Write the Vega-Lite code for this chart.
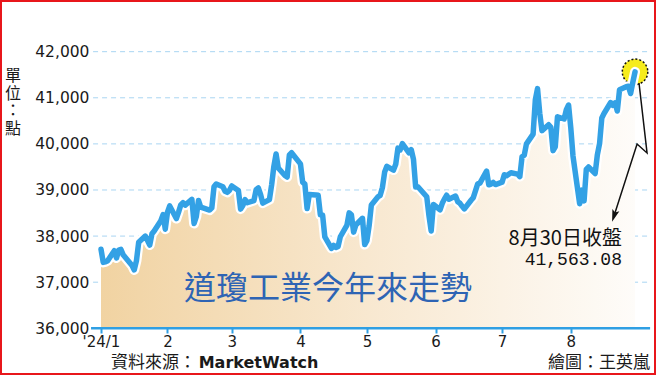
{
  "$schema": "https://vega.github.io/schema/vega-lite/v6.json",
  "width": 656,
  "height": 375,
  "autosize": "none",
  "padding": 0,
  "background": "white",
  "config": {"view": {"stroke": "#e8161b", "strokeWidth": 4}},
  "datasets": {
    "dow": [
      {"date":"2024-01-02","close":37715},{"date":"2024-01-03","close":37430},{"date":"2024-01-04","close":37440},{"date":"2024-01-05","close":37466},
      {"date":"2024-01-08","close":37683},{"date":"2024-01-09","close":37525},{"date":"2024-01-10","close":37696},{"date":"2024-01-11","close":37711},
      {"date":"2024-01-12","close":37593},{"date":"2024-01-16","close":37361},{"date":"2024-01-17","close":37267},{"date":"2024-01-18","close":37469},
      {"date":"2024-01-19","close":37864},{"date":"2024-01-22","close":38001},{"date":"2024-01-23","close":37905},{"date":"2024-01-24","close":37806},
      {"date":"2024-01-25","close":38049},{"date":"2024-01-26","close":38109},{"date":"2024-01-29","close":38333},{"date":"2024-01-30","close":38467},
      {"date":"2024-01-31","close":38150},{"date":"2024-02-01","close":38519},{"date":"2024-02-02","close":38654},{"date":"2024-02-05","close":38380},
      {"date":"2024-02-06","close":38521},{"date":"2024-02-07","close":38677},{"date":"2024-02-08","close":38726},{"date":"2024-02-09","close":38671},
      {"date":"2024-02-12","close":38797},{"date":"2024-02-13","close":38273},{"date":"2024-02-14","close":38424},{"date":"2024-02-15","close":38773},
      {"date":"2024-02-16","close":38628},{"date":"2024-02-20","close":38564},{"date":"2024-02-21","close":38612},{"date":"2024-02-22","close":39069},
      {"date":"2024-02-23","close":39131},{"date":"2024-02-26","close":39069},{"date":"2024-02-27","close":38972},{"date":"2024-02-28","close":38949},
      {"date":"2024-02-29","close":38996},{"date":"2024-03-01","close":39087},{"date":"2024-03-04","close":38990},{"date":"2024-03-05","close":38585},
      {"date":"2024-03-06","close":38661},{"date":"2024-03-07","close":38791},{"date":"2024-03-08","close":38723},{"date":"2024-03-11","close":38770},
      {"date":"2024-03-12","close":39005},{"date":"2024-03-13","close":39043},{"date":"2024-03-14","close":38906},{"date":"2024-03-15","close":38715},
      {"date":"2024-03-18","close":38790},{"date":"2024-03-19","close":39111},{"date":"2024-03-20","close":39512},{"date":"2024-03-21","close":39781},
      {"date":"2024-03-22","close":39476},{"date":"2024-03-25","close":39314},{"date":"2024-03-26","close":39282},{"date":"2024-03-27","close":39760},
      {"date":"2024-03-28","close":39807},{"date":"2024-04-01","close":39567},{"date":"2024-04-02","close":39170},{"date":"2024-04-03","close":39127},
      {"date":"2024-04-04","close":38597},{"date":"2024-04-05","close":38904},{"date":"2024-04-08","close":38892},{"date":"2024-04-09","close":38884},
      {"date":"2024-04-10","close":38461},{"date":"2024-04-11","close":38459},{"date":"2024-04-12","close":37983},{"date":"2024-04-15","close":37735},
      {"date":"2024-04-16","close":37799},{"date":"2024-04-17","close":37753},{"date":"2024-04-18","close":37775},{"date":"2024-04-19","close":37986},
      {"date":"2024-04-22","close":38240},{"date":"2024-04-23","close":38504},{"date":"2024-04-24","close":38461},{"date":"2024-04-25","close":38086},
      {"date":"2024-04-26","close":38240},{"date":"2024-04-29","close":38386},{"date":"2024-04-30","close":37816},{"date":"2024-05-01","close":37903},
      {"date":"2024-05-02","close":38226},{"date":"2024-05-03","close":38676},{"date":"2024-05-06","close":38852},{"date":"2024-05-07","close":38884},
      {"date":"2024-05-08","close":39056},{"date":"2024-05-09","close":39388},{"date":"2024-05-10","close":39513},{"date":"2024-05-13","close":39432},
      {"date":"2024-05-14","close":39558},{"date":"2024-05-15","close":39908},{"date":"2024-05-16","close":39869},{"date":"2024-05-17","close":40004},
      {"date":"2024-05-20","close":39807},{"date":"2024-05-21","close":39873},{"date":"2024-05-22","close":39671},{"date":"2024-05-23","close":39065},
      {"date":"2024-05-24","close":39070},{"date":"2024-05-28","close":38853},{"date":"2024-05-29","close":38442},{"date":"2024-05-30","close":38112},
      {"date":"2024-05-31","close":38686},{"date":"2024-06-03","close":38571},{"date":"2024-06-04","close":38711},{"date":"2024-06-05","close":38807},
      {"date":"2024-06-06","close":38886},{"date":"2024-06-07","close":38799},{"date":"2024-06-10","close":38868},{"date":"2024-06-11","close":38747},
      {"date":"2024-06-12","close":38712},{"date":"2024-06-13","close":38647},{"date":"2024-06-14","close":38589},{"date":"2024-06-17","close":38778},
      {"date":"2024-06-18","close":38834},{"date":"2024-06-20","close":39134},{"date":"2024-06-21","close":39150},{"date":"2024-06-24","close":39411},
      {"date":"2024-06-25","close":39112},{"date":"2024-06-26","close":39127},{"date":"2024-06-27","close":39164},{"date":"2024-06-28","close":39118},
      {"date":"2024-07-01","close":39169},{"date":"2024-07-02","close":39331},{"date":"2024-07-03","close":39308},{"date":"2024-07-05","close":39375},
      {"date":"2024-07-08","close":39344},{"date":"2024-07-09","close":39291},{"date":"2024-07-10","close":39721},{"date":"2024-07-11","close":39753},
      {"date":"2024-07-12","close":40001},{"date":"2024-07-15","close":40212},{"date":"2024-07-16","close":40954},{"date":"2024-07-17","close":41198},
      {"date":"2024-07-18","close":40665},{"date":"2024-07-19","close":40288},{"date":"2024-07-22","close":40415},{"date":"2024-07-23","close":40358},
      {"date":"2024-07-24","close":39854},{"date":"2024-07-25","close":39935},{"date":"2024-07-26","close":40589},{"date":"2024-07-29","close":40540},
      {"date":"2024-07-30","close":40743},{"date":"2024-07-31","close":40843},{"date":"2024-08-01","close":40348},{"date":"2024-08-02","close":39737},
      {"date":"2024-08-05","close":38703},{"date":"2024-08-06","close":38997},{"date":"2024-08-07","close":38763},{"date":"2024-08-08","close":39446},
      {"date":"2024-08-09","close":39498},{"date":"2024-08-12","close":39357},{"date":"2024-08-13","close":39766},{"date":"2024-08-14","close":40009},
      {"date":"2024-08-15","close":40563},{"date":"2024-08-16","close":40660},{"date":"2024-08-19","close":40897},{"date":"2024-08-20","close":40835},
      {"date":"2024-08-21","close":40891},{"date":"2024-08-22","close":40713},{"date":"2024-08-23","close":41175},{"date":"2024-08-26","close":41240},
      {"date":"2024-08-27","close":41250},{"date":"2024-08-28","close":41092},{"date":"2024-08-29","close":41335},{"date":"2024-08-30","close":41563}
    ]
  },
  "layer": [
    {
      "data": {"values": [{"d":"2023-12-29T10:00:00Z","d2":"2024-09-05T19:00:00Z","v":37000},{"d":"2023-12-29T10:00:00Z","d2":"2024-09-05T19:00:00Z","v":38000},{"d":"2023-12-29T10:00:00Z","d2":"2024-09-05T19:00:00Z","v":39000},{"d":"2023-12-29T10:00:00Z","d2":"2024-09-05T19:00:00Z","v":40000},{"d":"2023-12-29T10:00:00Z","d2":"2024-09-05T19:00:00Z","v":41000},{"d":"2023-12-29T10:00:00Z","d2":"2024-09-05T19:00:00Z","v":42000}]},
      "mark": {"type": "rule", "color": "#a9d5f2", "strokeWidth": 1, "strokeDash": [5, 4]},
      "encoding": {
        "x": {
          "field": "d", "type": "temporal",
          "scale": {"type": "utc", "domain": [{"year":2023,"month":11,"date":17,"hours":10,"utc":true}, {"year":2024,"month":9,"date":8,"hours":11,"utc":true}]},
          "axis": {
            "orient": "bottom", "offset": -47, "title": null, "grid": false, "domain": false, "zindex": 1,
            "ticks": true, "tickSize": 5, "tickWidth": 2, "tickColor": "#2f9fe3",
            "values": [
              {"year":2024,"month":1,"date":2,"utc":true},{"year":2024,"month":2,"date":1,"utc":true},{"year":2024,"month":3,"date":1,"utc":true},
              {"year":2024,"month":4,"date":1,"utc":true},{"year":2024,"month":5,"date":1,"utc":true},{"year":2024,"month":6,"date":1,"utc":true},
              {"year":2024,"month":7,"date":1,"utc":true},{"year":2024,"month":8,"date":1,"utc":true}
            ],
            "labelExpr": "utcmonth(datum.value) == 0 ? \"'24/1\" : '' + (utcmonth(datum.value) + 1)",
            "labelFont": "DejaVu Sans", "labelFontSize": 15, "labelColor": "#1a1a1a", "labelPadding": 1, "labelFlush": false
          }
        },
        "x2": {"field": "d2"},
        "y": {
          "field": "v", "type": "quantitative",
          "scale": {"domain": [34987, 43121], "zero": false, "nice": false},
          "axis": {
            "orient": "left", "offset": -93, "title": null, "grid": false, "domain": false, "ticks": false, "zindex": 1,
            "values": [36000, 37000, 38000, 39000, 40000, 41000, 42000], "format": ",d",
            "labelFont": "DejaVu Sans", "labelFontSize": 15.5, "labelColor": "#1a1a1a", "labelPadding": 4
          }
        }
      }
    },
    {
      "data": {"name": "dow"},
      "mark": {"type": "area", "fill": {"gradient": "linear", "x1": 0, "y1": 0, "x2": 1, "y2": 0, "stops": [{"offset": 0, "color": "#f1d3a2"}, {"offset": 0.5, "color": "#f8e8d0"}, {"offset": 1, "color": "#fefcf9"}]}},
      "encoding": {
        "x": {"field": "date", "type": "temporal"},
        "y": {"field": "close", "type": "quantitative"},
        "y2": {"datum": 36000}
      }
    },
    {
      "data": {"values": [{"d": "2023-12-28T12:00:00Z", "d2": "2024-09-05T19:00:00Z", "v": 36000}]},
      "mark": {"type": "rule", "color": "#2f9fe3", "strokeWidth": 2.5},
      "encoding": {
        "x": {"field": "d", "type": "temporal"},
        "x2": {"field": "d2"},
        "y": {"field": "v", "type": "quantitative"}
      }
    },
    {
      "data": {"values": [{"date": "2024-08-30", "close": 41563}]},
      "mark": {"type": "point", "shape": "circle", "filled": true, "fill": "#f6ec1c", "opacity": 1, "stroke": "#111111", "strokeWidth": 1.5, "strokeDash": [2, 2], "size": 650},
      "encoding": {
        "x": {"field": "date", "type": "temporal"},
        "y": {"field": "close", "type": "quantitative"}
      }
    },
    {
      "data": {"name": "dow"},
      "mark": {"type": "line", "color": "#ffffff", "strokeWidth": 10, "strokeJoin": "round", "strokeCap": "round"},
      "encoding": {
        "x": {"field": "date", "type": "temporal"},
        "y": {"field": "close", "type": "quantitative"}
      }
    },
    {
      "data": {"name": "dow"},
      "mark": {"type": "line", "color": "#33a1e5", "strokeWidth": 5.5, "strokeJoin": "round", "strokeCap": "round"},
      "encoding": {
        "x": {"field": "date", "type": "temporal"},
        "y": {"field": "close", "type": "quantitative"}
      }
    },
    {
      "data": {"values": [
        {"k": 1, "date": "2024-08-31T19:00:00Z", "v": 41321},
        {"k": 2, "date": "2024-09-04T10:00:00Z", "v": 39803},
        {"k": 3, "date": "2024-08-30T22:00:00Z", "v": 39998},
        {"k": 4, "date": "2024-08-20T12:00:00Z", "v": 38436}
      ]},
      "mark": {"type": "line", "color": "#111111", "strokeWidth": 1.5},
      "encoding": {
        "x": {"field": "date", "type": "temporal"},
        "y": {"field": "v", "type": "quantitative"},
        "order": {"field": "k", "type": "quantitative"}
      }
    },
    {
      "data": {"values": [{"date": "2024-08-20T12:00:00Z", "v": 38436}]},
      "mark": {"type": "point", "shape": "M0,-1L0.6,1L0,0.6L-0.6,1Z", "filled": true, "color": "#111111", "opacity": 1, "size": 150, "angle": 198},
      "encoding": {
        "x": {"field": "date", "type": "temporal"},
        "y": {"field": "v", "type": "quantitative"}
      }
    },
    {
      "data": {"values": [{"date": "2024-04-13T10:00:00Z", "v": 36852, "t": "道瓊工業今年來走勢"}]},
      "mark": {"type": "text", "font": "Noto Sans CJK TC", "fontSize": 32, "color": "#2e64b4", "align": "center", "baseline": "middle"},
      "encoding": {
        "x": {"field": "date", "type": "temporal"},
        "y": {"field": "v", "type": "quantitative"},
        "text": {"field": "t"}
      }
    },
    {
      "data": {"values": [{"date": "2024-08-24T02:00:00Z", "v": 37937, "t": "8月30日收盤"}]},
      "mark": {"type": "text", "font": "Noto Sans CJK TC", "fontSize": 20, "color": "#111111", "align": "right", "baseline": "middle"},
      "encoding": {
        "x": {"field": "date", "type": "temporal"},
        "y": {"field": "v", "type": "quantitative"},
        "text": {"field": "t"}
      }
    },
    {
      "data": {"values": [{"date": "2024-08-24T02:00:00Z", "v": 37481, "t": "41,563.08"}]},
      "mark": {"type": "text", "font": "Liberation Mono", "fontSize": 18, "color": "#111111", "align": "right", "baseline": "middle"},
      "encoding": {
        "x": {"field": "date", "type": "temporal"},
        "y": {"field": "v", "type": "quantitative"},
        "text": {"field": "t"}
      }
    },
    {
      "data": {"values": [{"date": "2023-11-23T07:00:00Z", "v": 41640, "t": "單\n位\n：\n點"}]},
      "mark": {"type": "text", "font": "Noto Sans CJK TC", "fontSize": 16, "lineHeight": 17.5, "lineBreak": "\n", "color": "#1a1a1a", "align": "center", "baseline": "top"},
      "encoding": {
        "x": {"field": "date", "type": "temporal"},
        "y": {"field": "v", "type": "quantitative"},
        "text": {"field": "t"}
      }
    },
    {
      "data": {"values": [{"date": "2024-01-06T12:00:00Z", "v": 35250, "t": "資料來源："}]},
      "mark": {"type": "text", "font": "Noto Sans CJK TC", "fontSize": 17, "color": "#1a1a1a", "align": "left", "baseline": "middle"},
      "encoding": {
        "x": {"field": "date", "type": "temporal"},
        "y": {"field": "v", "type": "quantitative"},
        "text": {"field": "t"}
      }
    },
    {
      "data": {"values": [{"date": "2024-02-15T02:00:00Z", "v": 35250, "t": "MarketWatch"}]},
      "mark": {"type": "text", "font": "DejaVu Sans", "fontWeight": "bold", "fontSize": 16, "color": "#1a1a1a", "align": "left", "baseline": "middle"},
      "encoding": {
        "x": {"field": "date", "type": "temporal"},
        "y": {"field": "v", "type": "quantitative"},
        "text": {"field": "t"}
      }
    },
    {
      "data": {"values": [{"date": "2024-09-05T19:00:00Z", "v": 35250, "t": "繪圖：王英嵐"}]},
      "mark": {"type": "text", "font": "Noto Sans CJK TC", "fontSize": 17, "color": "#1a1a1a", "align": "right", "baseline": "middle"},
      "encoding": {
        "x": {"field": "date", "type": "temporal"},
        "y": {"field": "v", "type": "quantitative"},
        "text": {"field": "t"}
      }
    }
  ]
}
